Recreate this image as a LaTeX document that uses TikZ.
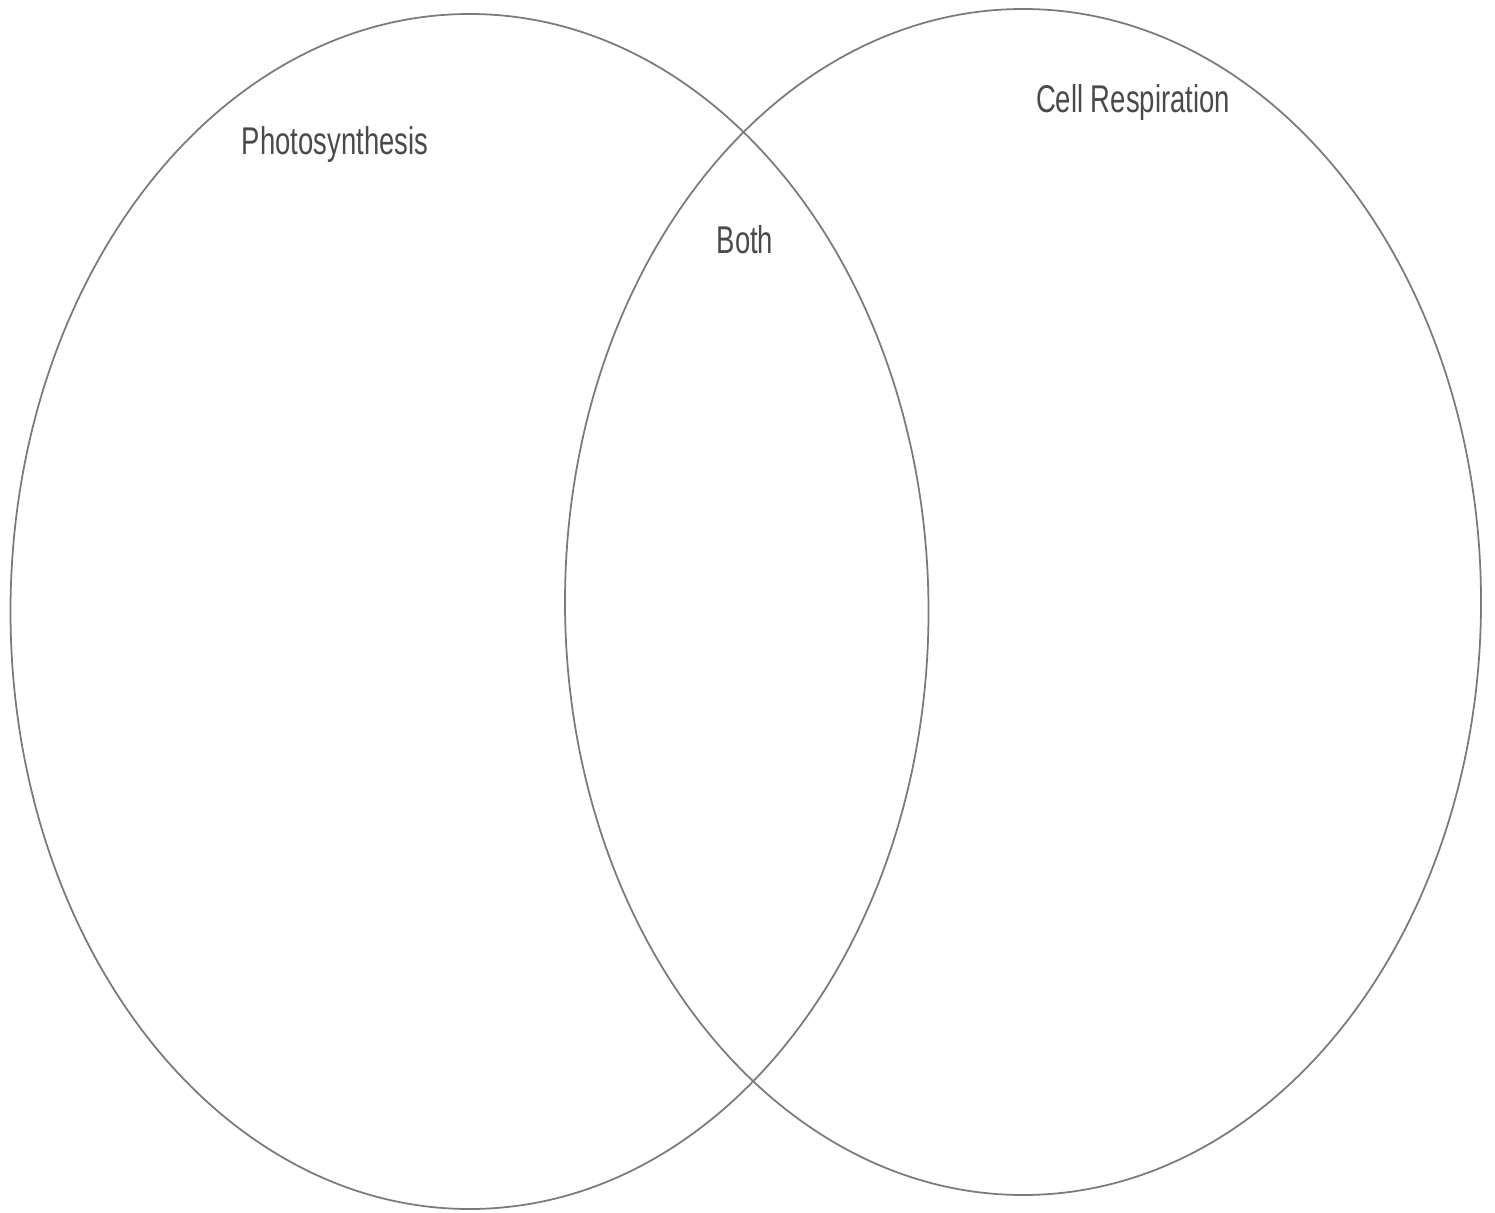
\documentclass[tikz,border=0pt]{standalone}
\usepackage{fontspec}
\setmainfont{Liberation Sans}
\begin{document}
\begin{tikzpicture}[x=0.01cm, y=-0.01cm]
    \definecolor{borderColour}{HTML}{7A7A7A}
    \definecolor{textColour}{HTML}{4A4A4A}

    \tikzset{setLabel/.style={text=textColour, font=\fontsize{11}{13}\selectfont, xscale=0.71, inner sep=0pt}}

    % Fix the page size
    \useasboundingbox (0,0) rectangle (1495,1213);

    % Centres of the two sets
    \coordinate (P) at (469.5,611.5);
    \coordinate (R) at (1023,602);

    % Draw ellipses
    \draw[borderColour, line width=0.5pt] (P) ellipse [x radius=459, y radius=597.5];
    \draw[borderColour, line width=0.5pt] (R) ellipse [x radius=458, y radius=593];

    % Labels
    \node[setLabel] (photo) at (335,145) {Photosynthesis};
    \node[setLabel] (resp) at (1133,103) {Cell Respiration};
    \node[setLabel] (both) at (745,240) {Both};

\end{tikzpicture}
\end{document}
